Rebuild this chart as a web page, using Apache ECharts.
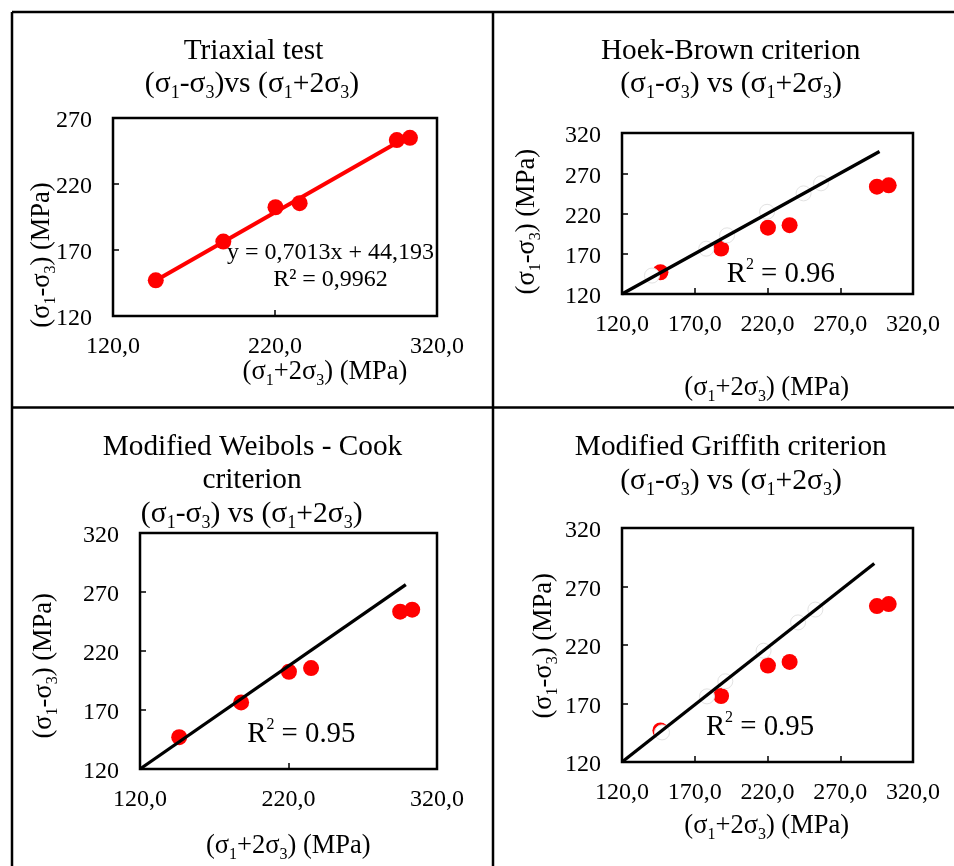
<!DOCTYPE html>
<html><head><meta charset="utf-8">
<script src="https://cdn.jsdelivr.net/npm/echarts@6/dist/echarts.min.js"></script>
<style>html,body{margin:0;padding:0;background:#fff}#c{width:954px;height:866px}</style>
</head><body><div id="c"></div>
<script>
// measured data (same specimens in every panel)
const xMeasured = [146.4, 188.1, 220.3, 235.2, 295.2, 303.3];
const yMeasured = [147.0, 176.4, 202.4, 205.5, 253.3, 255.0];
// linear trendline of the triaxial test (end points)
const trendX = [146.4, 303.3];
const trendY = [146.9, 256.9];
// criterion lines (end points)
const hoekX = [120, 297];      const hoekY = [120, 297];
const weibolsX = [120, 299];   const weibolsY = [120, 276.2];
const griffithX = [120, 293.4]; const griffithY = [120, 289.6];
// faint predicted-point markers
const hoekPredX = [140.6, 177.9, 192.2, 219.7, 244.8, 256.8];
const hoekPredY = [142.9, 176.3, 192.9, 222.1, 245.0, 257.5];
const griffithPredX = [147.5, 178.4, 191.0, 217.3, 241.0, 252.9];
const griffithPredY = [145.3, 176.1, 189.0, 215.1, 239.3, 250.3];
// tick labels
const xTicksWide = ['120,0', '220,0', '320,0'];
const xTicksFine = ['120,0', '170,0', '220,0', '270,0', '320,0'];
const yTicksShort = ['120', '170', '220', '270'];
const yTicks = ['120', '170', '220', '270', '320'];

const F = 'Liberation Serif';
const pairs = (xs, ys) => xs.map((v, i) => [v, ys[i]]);

function xAxis(gi, interval, labels) {
  return {
    type: 'value', gridIndex: gi, min: 120, max: 120 + interval * (labels.length - 1), interval,
    axisLine: { show: false },
    axisTick: { show: true, inside: true, length: 6, lineStyle: { color: '#000', width: 1.5 } },
    splitLine: { show: false },
    axisLabel: { color: '#000', fontFamily: F, fontSize: 24, margin: 19,
      formatter: v => labels[Math.round((v - 120) / interval)] }
  };
}
function yAxis(gi, labels) {
  return {
    type: 'value', gridIndex: gi, min: 120, max: 120 + 50 * (labels.length - 1), interval: 50,
    axisLine: { show: false },
    axisTick: { show: true, inside: true, length: 6, lineStyle: { color: '#000', width: 1.5 } },
    splitLine: { show: false },
    axisLabel: { color: '#000', fontFamily: F, fontSize: 24, margin: 21,
      formatter: v => '{d|' + labels[Math.round((v - 120) / 50)] + '}',
      rich: { d: { fontFamily: F, fontSize: 24, color: '#000', padding: [6, 0, 0, 0] } } }
  };
}
function grid(l, t, w, h) {
  return { left: l, top: t, width: w, height: h, show: true, borderColor: '#000', borderWidth: 2.5, backgroundColor: 'transparent' };
}
function scatter(i) {
  return { type: 'scatter', xAxisIndex: i, yAxisIndex: i, symbol: 'circle', symbolSize: 16,
    itemStyle: { color: '#ff0000', opacity: 1 }, data: pairs(xMeasured, yMeasured), z: 2, silent: true };
}
function ghost(i, xs, ys) {
  return { type: 'scatter', xAxisIndex: i, yAxisIndex: i, symbol: 'circle', symbolSize: 15,
    itemStyle: { color: '#ffffff', borderColor: '#e2e2e2', borderWidth: 1, opacity: 1 }, data: pairs(xs, ys), z: 3, silent: true };
}
function line(i, xs, ys, color, w) {
  return { type: 'line', xAxisIndex: i, yAxisIndex: i, symbol: 'none', data: pairs(xs, ys),
    lineStyle: { color, width: w }, z: 4, silent: true, animation: false };
}

function richStyles(size, sub) {
  return {
    m: { fontFamily: F, fontSize: size, lineHeight: Math.round(size * 1.23), fill: '#000' },
    s: { fontFamily: F, fontSize: sub, lineHeight: sub, verticalAlign: 'bottom', fill: '#000' },
    p: { fontFamily: F, fontSize: sub, lineHeight: sub, verticalAlign: 'top', fill: '#000' }
  };
}
function T(x, y, text, size, sub, rot) {
  return { type: 'text', x, y, rotation: rot || 0, silent: true,
    style: { text, fontFamily: F, fontSize: size, fill: '#000', align: 'center', verticalAlign: 'middle',
      rich: richStyles(size, sub || Math.round(size * 0.6)) } };
}
const subTight = '{m|(σ}{s|1}{m|-σ}{s|3}{m|)vs (σ}{s|1}{m|+2σ}{s|3}{m|)}';
const subSpaced = '{m|(σ}{s|1}{m|-σ}{s|3}{m|) vs (σ}{s|1}{m|+2σ}{s|3}{m|)}';
const yName = '{m|(σ}{s|1}{m|-σ}{s|3}{m|) (MPa)}';
const xName = '{m|(σ}{s|1}{m|+2σ}{s|3}{m|) (MPa)}';
const TS = 29.3, SS = 29.6, AS = 26.5, RS = 28.8;

const texts = [
  // panel 1
  T(253.5, 51, '{m|Triaxial test}', TS),
  T(252, 84.5, subTight, SS, 18),
  T(42, 255, yName, AS, 16, Math.PI / 2),
  T(325, 372.5, xName, AS, 16),
  T(330.5, 252.3, '{m|y = 0,7013x + 44,193}', 24),
  T(330.5, 279.6, '{m|R² = 0,9962}', 24),
  // panel 2
  T(730.7, 51, '{m|Hoek-Brown criterion}', TS),
  T(731, 84.3, subSpaced, SS, 18),
  T(527, 221.7, yName, AS, 16, Math.PI / 2),
  T(766.7, 388, xName, AS, 16),
  T(780.8, 274.3, '{m|R}{p|2}{m| = 0.96}', RS, 16),
  // panel 3
  T(252.5, 447, '{m|Modified Weibols - Cook}', TS),
  T(252, 480.3, '{m|criterion}', TS),
  T(251.7, 514.3, subSpaced, SS, 18),
  T(44, 665.8, yName, AS, 16, Math.PI / 2),
  T(288.3, 846.5, xName, AS, 16),
  T(301.3, 734.3, '{m|R}{p|2}{m| = 0.95}', RS, 16),
  // panel 4
  T(730.8, 447, '{m|Modified Griffith criterion}', TS),
  T(731, 481, subSpaced, SS, 18),
  T(544, 645.8, yName, AS, 16, Math.PI / 2),
  T(766.7, 826.5, xName, AS, 16),
  T(760, 727.7, '{m|R}{p|2}{m| = 0.95}', RS, 16)
];
const borderLine = (x1, y1, x2, y2) => ({ type: 'line', silent: true, shape: { x1, y1, x2, y2 }, style: { stroke: '#000', lineWidth: 2.5 } });
const borders = [
  borderLine(12, 12, 954, 12),
  borderLine(12, 12, 12, 866),
  borderLine(493, 12, 493, 866),
  borderLine(12, 407.5, 954, 407.5)
];

const chart = echarts.init(document.getElementById('c'));
chart.setOption({
  animation: false,
  backgroundColor: '#fff',
  textStyle: { fontFamily: F },
  grid: [grid(113, 118, 324, 198), grid(622, 133, 291, 161), grid(140, 533, 297, 236), grid(622, 528, 291, 234)],
  xAxis: [xAxis(0, 100, xTicksWide), xAxis(1, 50, xTicksFine), xAxis(2, 100, xTicksWide), xAxis(3, 50, xTicksFine)],
  yAxis: [yAxis(0, yTicksShort), yAxis(1, yTicks), yAxis(2, yTicks), yAxis(3, yTicks)],
  series: [
    scatter(0), line(0, trendX, trendY, '#ff0000', 4),
    scatter(1), ghost(1, hoekPredX, hoekPredY), line(1, hoekX, hoekY, '#000', 3.3),
    scatter(2), line(2, weibolsX, weibolsY, '#000', 3.3),
    scatter(3), ghost(3, griffithPredX, griffithPredY), line(3, griffithX, griffithY, '#000', 3.3)
  ],
  graphic: borders.concat(texts)
});
</script></body></html>
